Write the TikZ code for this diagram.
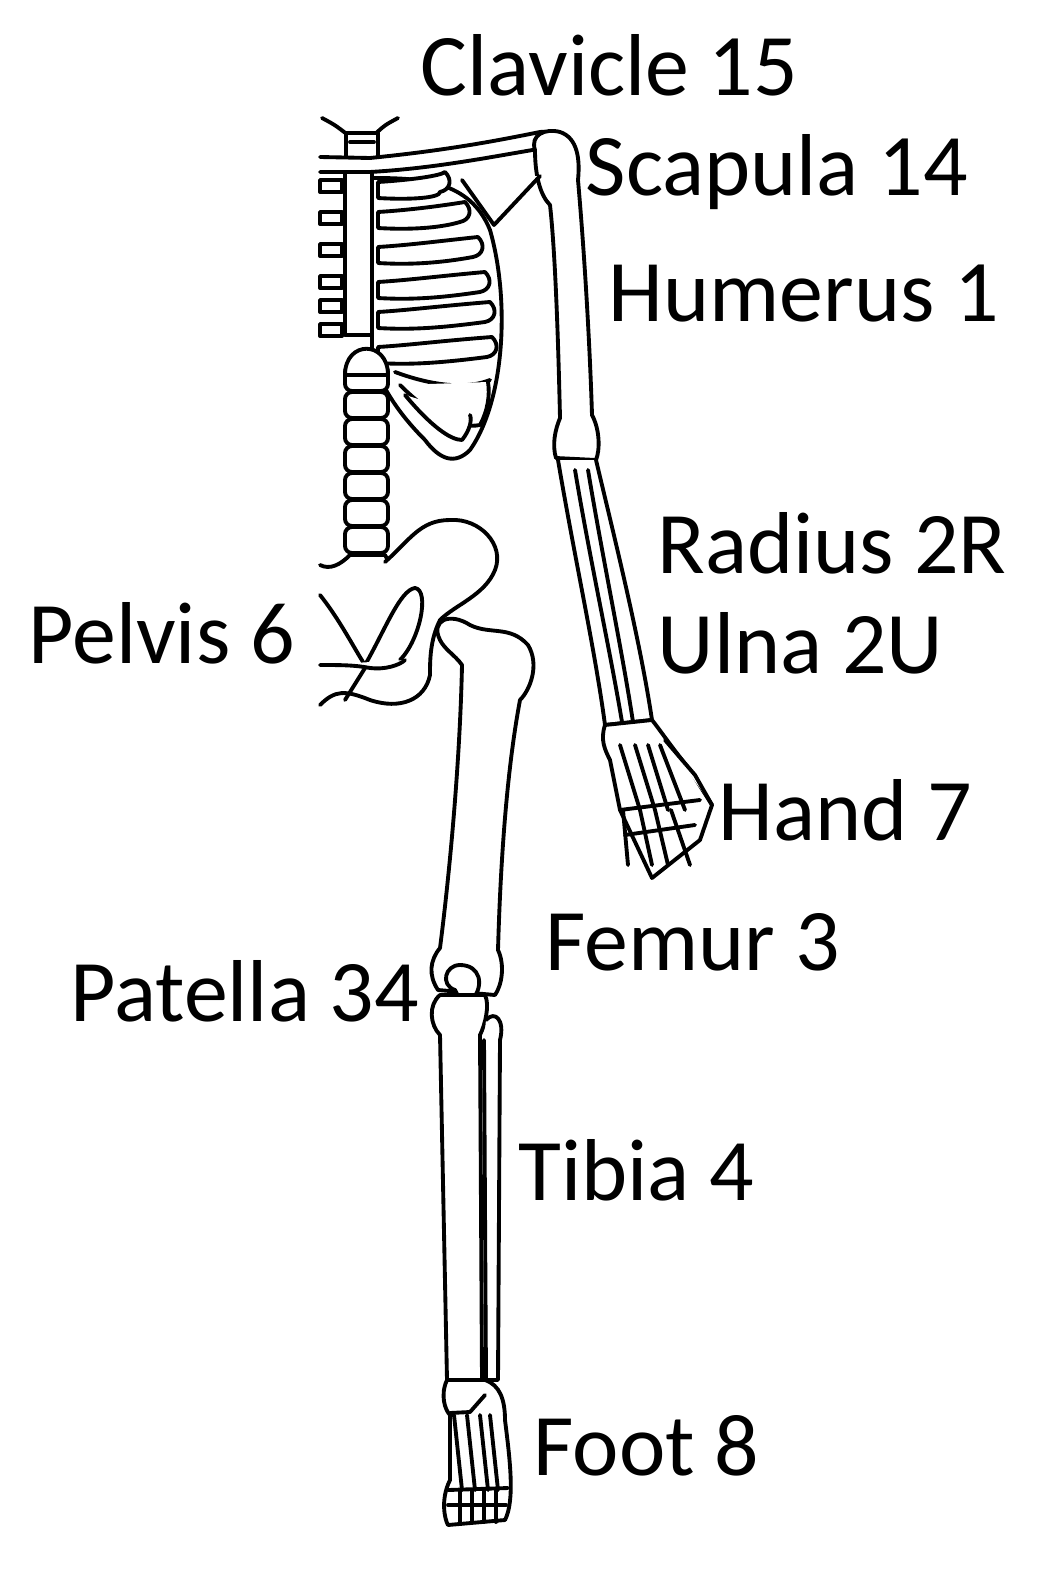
\documentclass[tikz,border=0pt]{standalone}
\usepackage{fontspec}
\setmainfont{Carlito}
\begin{document}
\begin{tikzpicture}[x=0.1mm,y=-0.1mm,bone/.style={draw=black,line width=1.1pt,line join=round,line cap=round,fill=white},
lbl/.style={anchor=base west,font=\fontsize{25}{29}\selectfont,inner sep=0}]
\useasboundingbox (0,0) rectangle (1040,1595);
% neck
\draw[bone] (322,118) .. controls (335,125) .. (348,135);
\draw[bone] (398,118) .. controls (385,125) .. (374,135);
\draw[bone] (346,133) rectangle (378,160);
\draw[bone] (350,142) -- (374,142);
% clavicle
\draw[bone] (320,157) -- (370,158) .. controls (450,150) and (500,140) .. (540,132) .. controls (555,130) and (560,140) .. (545,148) .. controls (500,155) and (440,168) .. (370,172) -- (320,172);
% humerus
\draw[bone] (535,150) .. controls (530,135) and (545,128) .. (560,132) .. controls (578,138) and (580,160) .. (578,180)
 .. controls (585,260) and (590,350) .. (592,415) .. controls (600,430) and (600,450) .. (596,460)
 -- (556,458) .. controls (552,445) and (555,430) .. (560,418) .. controls (558,330) and (555,250) .. (550,205) .. controls (540,195) and (535,175) .. (535,150) -- cycle;
% scapula
\draw[bone] (462,180) -- (494,225) -- (540,176);
% ribcage outline
\draw[bone] (372,178) .. controls (420,178) and (470,180) .. (490,230) .. controls (510,300) and (505,400) .. (470,450) .. controls (455,465) and (440,460) .. (425,440) .. controls (405,420) and (385,395) .. (372,360) -- cycle;
% sternum
\draw[bone] (345,172) -- (372,172) -- (372,335) -- (345,335) -- cycle;
% left short ribs
\foreach \y in {180,212,244,276,300,324}{\draw[bone] (320,\y) rectangle (342,\y+12);}
% right ribs
\foreach \y/\e in {180/445,210/465,245/478,280/485,310/490,345/492}{
 \draw[bone] (378,\y+2) .. controls (410,\y) and (440,\y-4) .. (\e,\y-8) .. controls (\e+8,\y) and (\e+5,\y+10) .. (\e-5,\y+12) .. controls (440,\y+18) and (410,\y+20) .. (378,\y+18) -- cycle;}
% lower floating ribs
\draw[bone] (395,372) .. controls (430,385) and (465,390) .. (490,380);
\draw[bone] (400,385) .. controls (425,410) and (455,430) .. (480,425) .. controls (488,410) and (490,395) .. (488,382);
\draw[bone] (405,395) .. controls (430,425) and (450,440) .. (462,440) .. controls (470,430) and (472,420) .. (470,415);
% spine
\foreach \y in {365,392,419,446,473,500,527}{\draw[bone,rounded corners=2pt] (345,\y) rectangle (388,\y+26);}
\draw[bone] (345,375) .. controls (345,340) and (388,340) .. (388,375) -- cycle;
\draw[bone] (320,565) .. controls (330,570) and (340,565) .. (350,555) -- (385,555) .. controls (390,565) and (395,568) .. (400,560);
% pelvis
\draw[bone] (385,562) .. controls (410,540) and (420,520) .. (450,520) .. controls (480,518) and (505,545) .. (495,570) .. controls (485,595) and (455,605) .. (440,620) .. controls (430,640) and (430,660) .. (430,675) .. controls (425,700) and (400,710) .. (370,700) .. controls (345,690) and (335,690) .. (320,705);
\draw[bone] (320,595) .. controls (340,620) and (355,650) .. (365,665) .. controls (385,630) and (400,590) .. (415,588) .. controls (430,590) and (420,640) .. (400,660);
\draw[bone] (320,665) .. controls (340,665) and (355,665) .. (370,668) .. controls (385,670) and (400,665) .. (405,660);
\draw[bone] (365,668) -- (345,700);
% femur
\draw[bone] (440,640) .. controls (430,620) and (450,612) .. (470,625) .. controls (490,635) and (510,625) .. (528,645) .. controls (540,665) and (530,690) .. (520,700)
 .. controls (505,780) and (500,880) .. (498,950) .. controls (505,965) and (502,985) .. (495,995) -- (438,990) .. controls (428,975) and (430,960) .. (440,948)
 .. controls (450,870) and (460,760) .. (462,665) .. controls (455,655) and (445,650) .. (440,640) -- cycle;
% patella
\draw[bone] (455,990) .. controls (440,985) and (445,965) .. (460,965) .. controls (480,965) and (485,985) .. (472,1000) .. controls (465,1008) and (460,1000) .. (455,990) -- cycle;
% tibia & fibula
\draw[bone] (440,995) .. controls (428,1005) and (430,1025) .. (440,1035) -- (447,1380) -- (482,1380) -- (480,1035) .. controls (485,1025) and (490,1005) .. (485,995) -- cycle;
\draw[bone] (486,1020) .. controls (495,1010) and (505,1020) .. (500,1040) -- (498,1380) -- (486,1380) -- (484,1040);
% foot
\draw[bone] (447,1380) .. controls (440,1395) and (445,1410) .. (450,1415) -- (450,1480) .. controls (440,1500) and (445,1520) .. (448,1525) -- (505,1520) .. controls (515,1500) and (510,1460) .. (505,1420) .. controls (505,1400) and (500,1385) .. (485,1380) -- cycle;
\draw[bone] (450,1413) -- (470,1412) -- (485,1395);
\foreach \x in {462,475,488,498}{\draw[bone] (\x-8,1415) -- (\x,1490);}
\draw[bone] (448,1490) -- (508,1488);
\foreach \x in {460,472,484,496}{\draw[bone] (\x,1490) -- (\x,1522);}
\draw[bone] (448,1505) -- (506,1505);
% forearm
\draw[bone] (558,460) .. controls (575,560) and (595,650) .. (605,725) -- (652,720) .. controls (640,640) and (615,540) .. (596,460);
\draw[bone] (575,470) .. controls (590,560) and (610,650) .. (622,722);
\draw[bone] (588,470) .. controls (603,560) and (622,650) .. (633,722);
% hand
\draw[bone] (605,725) .. controls (600,740) and (605,750) .. (610,760) -- (620,810) -- (652,878) -- (700,840) -- (712,805) -- (690,770) .. controls (670,745) and (660,730) .. (652,720) -- cycle;
\foreach \s/\e in {620/640,635/655,648/668,660/685}{\draw[bone] (\s,745) -- (\e,810);}
\foreach \s/\e in {628/628,645/652,660/668,676/690}{\draw[bone] (\s-5,810) -- (\e,865);}
\draw[bone] (665,740) -- (695,775) -- (712,805);
\draw[bone] (620,810) -- (700,800);
\draw[bone] (625,835) -- (695,825);
% labels
\node[lbl] (clav) at (420,96) {Clavicle 15};
\node[lbl] (scap) at (585,196) {Scapula 14};
\node[lbl] (hum) at (608,321) {Humerus 1};
\node[lbl] (rad) at (657,573) {Radius 2R};
\node[lbl] (uln) at (657,673) {Ulna 2U};
\node[lbl] (hand) at (718,840) {Hand 7};
\node[lbl] (fem) at (545,970) {Femur 3};
\node[lbl] (pat) at (70,1021) {Patella 34};
\node[lbl] (pel) at (28,663) {Pelvis 6};
\node[lbl] (tib) at (518,1200) {Tibia 4};
\node[lbl] (foot) at (533,1475) {Foot 8};
\end{tikzpicture}
\end{document}
